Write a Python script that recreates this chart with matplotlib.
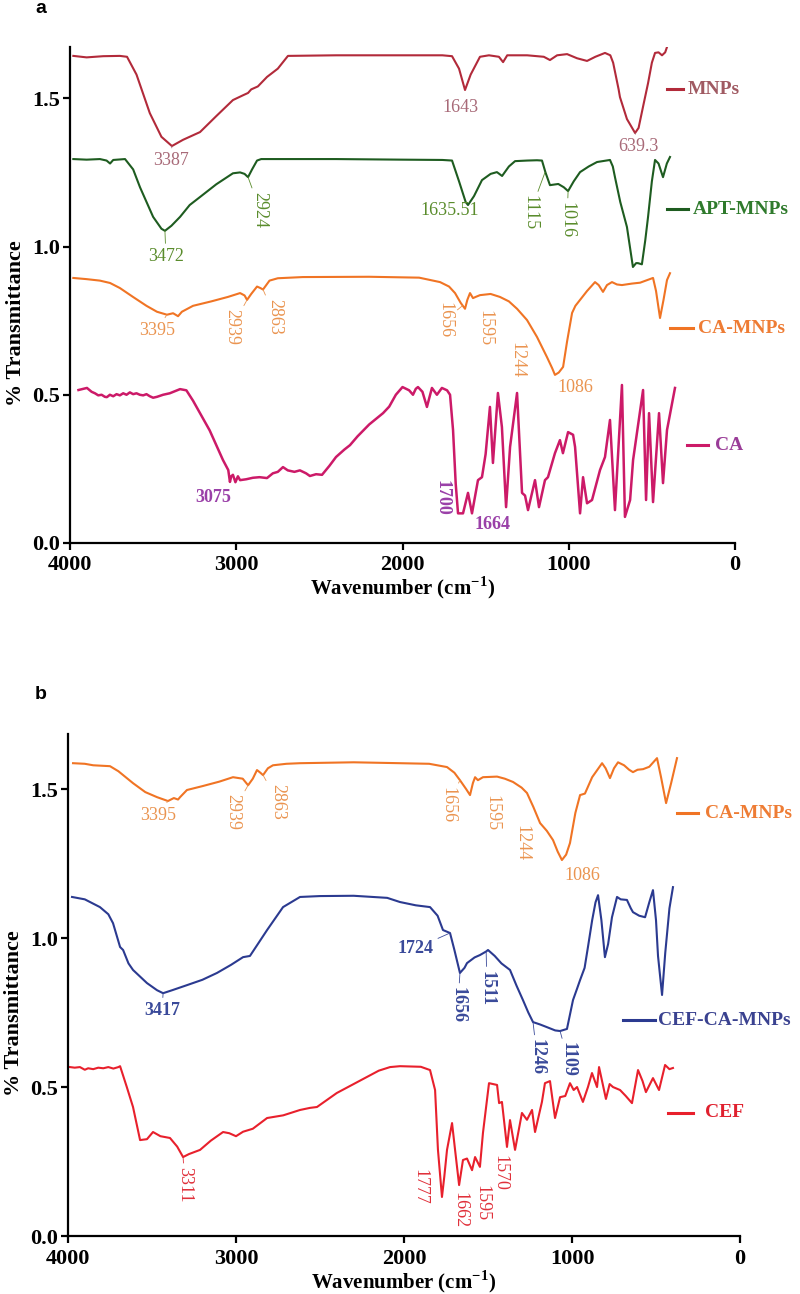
import numpy as np
import matplotlib.pyplot as plt

# ---- panel a spectra (wavenumber, % transmittance, offset stacked) ----
mnps_wn = [3980, 3900, 3800, 3700, 3657, 3600, 3520, 3450, 3387, 3320, 3218, 3120, 3020, 2960, 2929, 2910,
           2870, 2815, 2750, 2689, 2400, 2000, 1760, 1702, 1660, 1624, 1590, 1534, 1480, 1420, 1395, 1370,
           1250, 1150, 1113, 1070, 1010, 950, 890, 840, 782, 750, 733, 700, 692, 650, 601, 580, 550, 523,
           500, 481, 460, 439, 420, 409]
mnps_t = [1.643, 1.638, 1.642, 1.643, 1.640, 1.58, 1.45, 1.37, 1.339, 1.36, 1.386, 1.44, 1.494, 1.51, 1.518,
          1.53, 1.54, 1.572, 1.60, 1.643, 1.645, 1.645, 1.645, 1.642, 1.60, 1.528, 1.58, 1.640, 1.645, 1.64,
          1.622, 1.645, 1.645, 1.64, 1.629, 1.645, 1.649, 1.635, 1.626, 1.64, 1.653, 1.645, 1.62, 1.53,
          1.504, 1.43, 1.383, 1.40, 1.48, 1.551, 1.62, 1.653, 1.655, 1.645, 1.655, 1.673]

apt_wn = [3980, 3900, 3820, 3780, 3759, 3740, 3669, 3620, 3579, 3500, 3450, 3429, 3390, 3338, 3280, 3218,
          3120, 3020, 2977, 2950, 2929, 2905, 2875, 2850, 2400, 2000, 1760, 1702, 1660, 1620, 1606, 1570,
          1522, 1470, 1432, 1401, 1360, 1323, 1250, 1191, 1161, 1140, 1113, 1063, 1030, 1004, 970, 932,
          880, 830, 752, 735, 722, 690, 650, 614, 595, 584, 560, 540, 523, 500, 481, 460, 433, 410, 391]
apt_t = [1.295, 1.293, 1.295, 1.29, 1.28, 1.292, 1.295, 1.26, 1.20, 1.10, 1.06, 1.053, 1.07, 1.10, 1.14,
         1.167, 1.21, 1.247, 1.25, 1.245, 1.234, 1.26, 1.29, 1.295, 1.295, 1.293, 1.292, 1.29, 1.22, 1.15,
         1.14, 1.17, 1.224, 1.245, 1.251, 1.238, 1.27, 1.288, 1.29, 1.291, 1.29, 1.25, 1.207, 1.211, 1.20,
         1.187, 1.22, 1.251, 1.27, 1.285, 1.292, 1.27, 1.234, 1.15, 1.066, 0.931, 0.944, 0.944, 0.94, 1.02,
         1.10, 1.22, 1.292, 1.28, 1.234, 1.28, 1.302]

camnp_a_wn = [3980, 3900, 3820, 3759, 3700, 3621, 3540, 3477, 3417, 3380, 3350, 3327, 3260, 3150, 3050,
              2977, 2950, 2935, 2910, 2875, 2855, 2839, 2800, 2750, 2600, 2200, 1900, 1774, 1720, 1684,
              1650, 1624, 1610, 1594, 1576, 1560, 1534, 1470, 1414, 1360, 1311, 1251, 1191, 1131, 1100,
              1083, 1060, 1034, 1010, 980, 960, 932, 890, 842, 820, 794, 770, 740, 710, 680, 620, 571,
              493, 475, 451, 430, 409, 391]
camnp_a_t = [0.894, 0.89, 0.885, 0.877, 0.86, 0.83, 0.80, 0.78, 0.77, 0.775, 0.765, 0.78, 0.80, 0.815,
             0.83, 0.843, 0.835, 0.82, 0.84, 0.865, 0.86, 0.855, 0.885, 0.893, 0.897, 0.898, 0.895, 0.88,
             0.865, 0.843, 0.81, 0.79, 0.82, 0.843, 0.826, 0.83, 0.836, 0.84, 0.83, 0.815, 0.79, 0.752,
             0.695, 0.627, 0.59, 0.567, 0.575, 0.594, 0.68, 0.776, 0.80, 0.82, 0.85, 0.88, 0.87, 0.847,
             0.87, 0.88, 0.872, 0.87, 0.875, 0.878, 0.894, 0.85, 0.759, 0.82, 0.887, 0.91]

ca_wn = [3949, 3920, 3898, 3870, 3850, 3830, 3810, 3790, 3778, 3760, 3740, 3720, 3700, 3680, 3660, 3640,
         3620, 3600, 3580, 3560, 3540, 3520, 3500, 3477, 3440, 3400, 3338, 3300, 3260, 3218, 3160, 3116,
         3080, 3048, 3038, 3030, 3020, 3005, 2990, 2977, 2940, 2900, 2860, 2815, 2780, 2750, 2719, 2690,
         2650, 2617, 2580, 2557, 2520, 2484, 2440, 2400, 2350, 2316, 2270, 2200, 2117, 2080, 2040, 2000,
         1960, 1937, 1920, 1907, 1880, 1853, 1823, 1793, 1763, 1732, 1714, 1696, 1680, 1666, 1636, 1606,
         1582, 1546, 1522, 1500, 1474, 1456, 1426, 1402, 1377, 1353, 1311, 1281, 1263, 1245, 1203, 1179,
         1143, 1125, 1083, 1053, 1035, 1004, 974, 962, 932, 914, 890, 860, 812, 782, 752, 722, 680, 662,
         631, 613, 553, 535, 517, 493, 457, 433, 409, 361]
ca_t = [0.516, 0.52, 0.523, 0.51, 0.505, 0.498, 0.50, 0.493, 0.492, 0.50, 0.495, 0.502, 0.498, 0.505, 0.50,
        0.508, 0.502, 0.505, 0.50, 0.498, 0.502, 0.495, 0.49, 0.493, 0.50, 0.505, 0.519, 0.515, 0.48, 0.438,
        0.38, 0.325, 0.28, 0.246, 0.206, 0.225, 0.23, 0.205, 0.225, 0.212, 0.215, 0.22, 0.222, 0.219, 0.235,
        0.24, 0.256, 0.245, 0.24, 0.245, 0.235, 0.226, 0.232, 0.23, 0.26, 0.29, 0.315, 0.33, 0.36, 0.40,
        0.438, 0.46, 0.50, 0.526, 0.515, 0.50, 0.52, 0.526, 0.51, 0.459, 0.523, 0.50, 0.523, 0.515, 0.50,
        0.381, 0.2, 0.1, 0.1, 0.169, 0.1, 0.212, 0.222, 0.30, 0.459, 0.27, 0.506, 0.391, 0.121, 0.324,
        0.506, 0.169, 0.16, 0.111, 0.212, 0.121, 0.212, 0.222, 0.303, 0.347, 0.303, 0.374, 0.365, 0.324,
        0.1, 0.222, 0.134, 0.145, 0.246, 0.29, 0.415, 0.111, 0.533, 0.088, 0.145, 0.28, 0.516, 0.145,
        0.438, 0.138, 0.438, 0.202, 0.381, 0.523]

# ---- panel b spectra ----
camnp_b_wn = [3970, 3900, 3850, 3750, 3700, 3613, 3540, 3470, 3405, 3370, 3345, 3333, 3292, 3200, 3100,
              3018, 2960, 2928, 2900, 2875, 2855, 2839, 2810, 2780, 2700, 2619, 2300, 2024, 1850, 1744,
              1700, 1667, 1630, 1607, 1590, 1577, 1560, 1530, 1446, 1400, 1351, 1300, 1268, 1230, 1190,
              1150, 1113, 1085, 1060, 1035, 1012, 980, 952, 923, 880, 821, 800, 774, 750, 726, 690, 660,
              637, 610, 577, 540, 494, 470, 440, 410, 375]
camnp_b_t = [1.587, 1.585, 1.58, 1.577, 1.56, 1.52, 1.49, 1.473, 1.46, 1.47, 1.465, 1.473, 1.497, 1.51,
             1.525, 1.54, 1.535, 1.513, 1.535, 1.564, 1.555, 1.547, 1.57, 1.58, 1.585, 1.587, 1.59, 1.587,
             1.585, 1.574, 1.555, 1.53, 1.50, 1.48, 1.52, 1.54, 1.53, 1.54, 1.542, 1.535, 1.524, 1.505,
             1.487, 1.44, 1.386, 1.36, 1.329, 1.29, 1.262, 1.28, 1.319, 1.42, 1.48, 1.485, 1.54, 1.587,
             1.57, 1.537, 1.57, 1.59, 1.58, 1.565, 1.557, 1.565, 1.567, 1.575, 1.604, 1.54, 1.453, 1.52,
             1.604]

cefca_wn = [3976, 3900, 3810, 3760, 3732, 3690, 3672, 3640, 3613, 3530, 3470, 3434, 3380, 3292, 3200, 3113,
            3030, 2958, 2917, 2870, 2815, 2720, 2619, 2500, 2300, 2100, 2024, 1930, 1845, 1800, 1768, 1726,
            1700, 1667, 1640, 1625, 1580, 1548, 1511, 1500, 1460, 1420, 1369, 1330, 1292, 1260, 1232, 1190,
            1149, 1100, 1071, 1030, 994, 970, 952, 925, 905, 880, 860, 845, 825, 804, 785, 762, 732, 710,
            673, 650, 637, 600, 565, 540, 518, 500, 488, 464, 445, 420, 399]
cefca_t = [1.138, 1.13, 1.104, 1.08, 1.05, 0.97, 0.96, 0.915, 0.893, 0.849, 0.825, 0.815, 0.825, 0.842,
           0.86, 0.883, 0.91, 0.936, 0.94, 0.98, 1.027, 1.104, 1.138, 1.141, 1.142, 1.135, 1.121, 1.11,
           1.104, 1.075, 1.027, 1.017, 0.96, 0.883, 0.90, 0.916, 0.935, 0.943, 0.955, 0.96, 0.94, 0.915,
           0.893, 0.84, 0.792, 0.75, 0.718, 0.71, 0.701, 0.69, 0.688, 0.695, 0.792, 0.83, 0.859, 0.90, 0.97,
           1.06, 1.12, 1.144, 1.06, 0.936, 0.98, 1.07, 1.138, 1.13, 1.128, 1.10, 1.087, 1.075, 1.07, 1.12,
           1.161, 1.06, 0.94, 0.809, 0.95, 1.10, 1.171]

cef_wn = [3988, 3960, 3929, 3900, 3880, 3850, 3820, 3790, 3760, 3730, 3700, 3690, 3650, 3613, 3571, 3530,
          3494, 3450, 3393, 3350, 3315, 3280, 3214, 3150, 3077, 3040, 3000, 2958, 2900, 2815, 2719, 2619,
          2560, 2518, 2400, 2300, 2220, 2150, 2083, 2024, 1900, 1845, 1815, 1798, 1774, 1760, 1744, 1714,
          1696, 1672, 1649, 1625, 1595, 1577, 1548, 1530, 1494, 1470, 1446, 1434, 1417, 1387, 1369, 1339,
          1298, 1268, 1238, 1220, 1179, 1161, 1131, 1101, 1071, 1040, 1012, 990, 970, 935, 905, 881, 851,
          839, 798, 776, 756, 714, 680, 643, 607, 580, 560, 518, 482, 446, 420, 399]
cef_t = [0.567, 0.565, 0.567, 0.558, 0.563, 0.56, 0.565, 0.563, 0.567, 0.562, 0.567, 0.57, 0.50, 0.433,
         0.322, 0.325, 0.349, 0.335, 0.329, 0.30, 0.265, 0.275, 0.289, 0.32, 0.349, 0.345, 0.335, 0.35,
         0.36, 0.396, 0.405, 0.423, 0.43, 0.433, 0.48, 0.51, 0.534, 0.555, 0.567, 0.57, 0.568, 0.557, 0.49,
         0.29, 0.131, 0.2, 0.289, 0.379, 0.289, 0.171, 0.255, 0.26, 0.221, 0.265, 0.232, 0.346, 0.513,
         0.51, 0.507, 0.446, 0.45, 0.299, 0.389, 0.289, 0.413, 0.39, 0.423, 0.349, 0.45, 0.513, 0.52,
         0.396, 0.466, 0.47, 0.513, 0.49, 0.50, 0.45, 0.50, 0.547, 0.50, 0.567, 0.46, 0.51, 0.50, 0.49,
         0.47, 0.446, 0.557, 0.52, 0.483, 0.53, 0.49, 0.574, 0.56, 0.564]

# peak labels: text, label x, label y, rotation, peak point (or None)
peaks_mnps = [("3387", 3395, 1.29, 0, (3387, 1.339)), ("1643", 1654, 1.47, 0, None),
              ("639.3", 583, 1.336, 0, (601, 1.383))]
peaks_apt = [("3472", 3423, 0.968, 0, (3429, 1.053)), ("2924", 2857, 1.123, -90, (2929, 1.234)),
             ("1635.51", 1714, 1.123, 0, None), ("1115", 1233, 1.113, -90, (1143, 1.25)),
             ("1016", 1010, 1.089, -90, (1004, 1.187))]
peaks_camnp_a = [("3395", 3477, 0.718, 0, (3417, 0.77)), ("2939", 3026, 0.728, -90, (2935, 0.82)),
                 ("2863", 2767, 0.762, -90, (2839, 0.855)), ("1656", 1744, 0.752, -90, (1640, 0.80)),
                 ("1595", 1504, 0.725, -90, None), ("1244", 1311, 0.617, -90, None),
                 ("1086", 962, 0.523, 0, None)]
peaks_ca = [("3075", 3140, 0.152, 0, None), ("1700", 1762, 0.152, -90, None),
            ("1664", 1456, 0.061, 0, None)]
peaks_camnp_b = [("3395", 3464, 1.413, 0, (3405, 1.46)), ("2939", 3018, 1.423, -90, (2928, 1.513)),
                 ("2863", 2750, 1.456, -90, (2839, 1.547)), ("1656", 1738, 1.446, -90, (1667, 1.53)),
                 ("1595", 1476, 1.419, -90, None), ("1244", 1298, 1.319, -90, None),
                 ("1086", 940, 1.211, 0, None)]
peaks_cefca = [("3417", 3440, 0.758, 0, (3434, 0.815)), ("1724", 1929, 0.966, 0, (1726, 1.017)),
               ("1656", 1679, 0.775, -90, (1667, 0.883)), ("1511", 1506, 0.832, -90, (1511, 0.955)),
               ("1246", 1208, 0.601, -90, (1232, 0.718)), ("1109", 1024, 0.591, -90, (1071, 0.688))]
peaks_cef = [("3311", 3304, 0.171, -90, (3315, 0.265)), ("1777", 1905, 0.164, -90, None),
             ("1662", 1667, 0.087, -90, None), ("1595", 1536, 0.111, -90, None),
             ("1570", 1429, 0.211, -90, None)]

# name keys beside each trace: line start, line end, text start (wavenumber), height
key_mnps = (409, 313, 283, 1.531)
key_apt = (409, 283, 253, 1.126)
key_camnp_a = (391, 253, 223, 0.725)
key_ca = (289, 162, 120, 0.33)
key_camnp_b = (375, 250, 208, 1.419)
key_cefca = (696, 506, 488, 0.725)
key_cef = (429, 280, 208, 0.413)

serif = "Liberation Serif"


def draw_series(ax, wn, t, name, line_c, name_c, lab_c, bold_labels, peaks, key, lw=1.5):
    ax.plot(wn, t, color=line_c, lw=lw)
    w = "bold" if bold_labels else "normal"
    for txt, tx, ty, rot, pk in peaks:
        if pk is not None:
            ax.annotate(txt, xy=pk, xytext=(tx, ty), ha="center", va="center", rotation=rot,
                        color=lab_c, fontsize=13, fontfamily=serif, fontweight=w,
                        arrowprops=dict(arrowstyle="-", lw=0.6, color=lab_c, shrinkA=1, shrinkB=0))
        else:
            ax.text(tx, ty, txt, ha="center", va="center", rotation=rot, color=lab_c,
                    fontsize=13, fontfamily=serif, fontweight=w)
    x0, x1, xt, ky = key
    ax.plot([x0, x1], [ky, ky], color=line_c, lw=2.2, clip_on=False)
    ax.text(xt, ky, name, ha="left", va="center", color=name_c, fontsize=14,
            fontfamily=serif, fontweight="bold", clip_on=False)


def style_axis(ax, ytop):
    ax.set_xlim(4000, 0)
    ax.set_ylim(0, ytop)
    for s in ["top", "right"]:
        ax.spines[s].set_visible(False)
    for s in ["left", "bottom"]:
        ax.spines[s].set_linewidth(1.6)
    ax.set_xticks([4000, 3000, 2000, 1000, 0])
    ax.set_yticks([0.0, 0.5, 1.0, 1.5])
    ax.set_yticklabels(["0.0", "0.5", "1.0", "1.5"])
    ax.tick_params(direction="out", length=5, width=1.6, labelsize=16)
    ax.tick_params(axis="x", pad=4)
    ax.tick_params(axis="y", pad=2)
    for lab in ax.get_xticklabels() + ax.get_yticklabels():
        lab.set_fontfamily(serif)
        lab.set_fontweight("bold")
    ax.set_xlabel("Wavenumber (cm$^{\\mathbf{-1}}$)", fontsize=15, fontfamily=serif, fontweight="bold")
    ax.set_ylabel("% Transmittance", fontsize=16, fontfamily=serif, fontweight="bold")
    ax.xaxis.set_label_coords(0.5, -0.064)
    ax.yaxis.set_label_coords(-0.066, 0.444)


plt.rcParams["mathtext.fontset"] = "custom"
plt.rcParams["mathtext.bf"] = "Liberation Serif:bold"
plt.rcParams["mathtext.rm"] = "Liberation Serif:bold"

fig = plt.figure(figsize=(8, 12.94), dpi=100)
ax_a = fig.add_axes([70 / 800, 1 - 543 / 1294, 665 / 800, 496 / 1294])
ax_b = fig.add_axes([68 / 800, 1 - 1236 / 1294, 672 / 800, 502 / 1294])

draw_series(ax_a, mnps_wn, mnps_t, "MNPs", "#b22a3a", "#a05a62", "#a86a78", False, peaks_mnps, key_mnps)
draw_series(ax_a, apt_wn, apt_t, "APT-MNPs", "#1e5c20", "#2f7a2c", "#5a8c2c", False, peaks_apt, key_apt)
draw_series(ax_a, camnp_a_wn, camnp_a_t, "CA-MNPs", "#f07424", "#ee7c34", "#ea9450", False, peaks_camnp_a, key_camnp_a)
draw_series(ax_a, ca_wn, ca_t, "CA", "#cc1a68", "#9a3c98", "#9a40a8", True, peaks_ca, key_ca, lw=1.8)
style_axis(ax_a, 1.673)

draw_series(ax_b, camnp_b_wn, camnp_b_t, "CA-MNPs", "#f07424", "#ee7c34", "#ea9450", False, peaks_camnp_b, key_camnp_b)
draw_series(ax_b, cefca_wn, cefca_t, "CEF-CA-MNPs", "#2b3a90", "#3a4290", "#3a4a9a", True, peaks_cefca, key_cefca)
draw_series(ax_b, cef_wn, cef_t, "CEF", "#e8202c", "#e0202e", "#e0303a", False, peaks_cef, key_cef)
style_axis(ax_b, 1.685)

fig.text(0.051, 0.9935, "a", fontsize=14, fontweight="bold", fontfamily="Liberation Sans", ha="center", va="center")
fig.text(0.051, 0.463, "b", fontsize=14, fontweight="bold", fontfamily="Liberation Sans", ha="center", va="center")

fig.savefig("out.png", dpi=100)
